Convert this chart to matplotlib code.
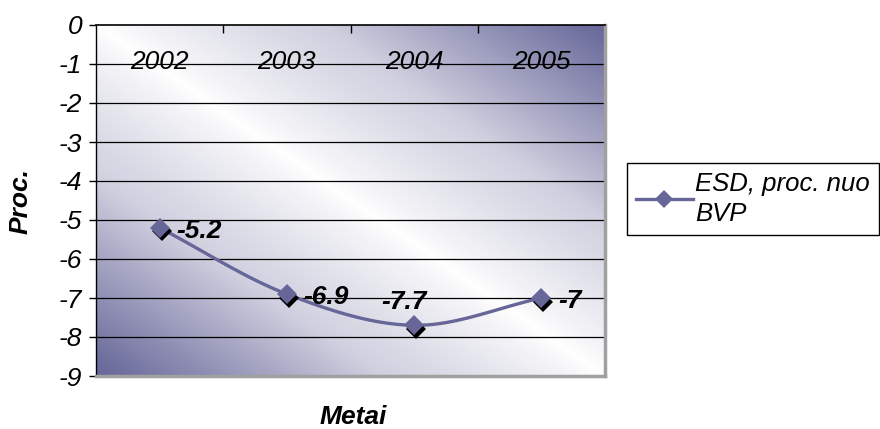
import numpy as np
import matplotlib.pyplot as plt
from matplotlib import transforms
from matplotlib.colors import LinearSegmentedColormap

plt.rcParams['font.family'] = ['Liberation Sans', 'DejaVu Sans']

# data
years = ['2002', '2003', '2004', '2005']
values = [-5.2, -6.9, -7.7, -7.0]
value_labels = ['-5.2', '-6.9', '-7.7', '-7']
series_name = 'ESD, proc. nuo\nBVP'

line_color = '#666699'
FS = 19


def catmull_rom(xs, ys, n=40):
    # smooth curve through points (like Excel "smoothed line")
    px = np.concatenate([[2 * xs[0] - xs[1]], xs, [2 * xs[-1] - xs[-2]]])
    py = np.concatenate([[2 * ys[0] - ys[1]], ys, [2 * ys[-1] - ys[-2]]])
    ox, oy = [], []
    t = np.linspace(0, 1, n)
    for i in range(1, len(px) - 2):
        for p, out in ((px, ox), (py, oy)):
            p0, p1, p2, p3 = p[i - 1], p[i], p[i + 1], p[i + 2]
            out.extend(0.5 * ((2 * p1) + (-p0 + p2) * t
                              + (2 * p0 - 5 * p1 + 4 * p2 - p3) * t ** 2
                              + (-p0 + 3 * p1 - 3 * p2 + p3) * t ** 3))
    return np.array(ox), np.array(oy)


fig = plt.figure(figsize=(8.8, 4.29), dpi=100)
W, H = 880, 429
ax = fig.add_axes([96 / W, 1 - 376 / H, (605 - 96) / W, (376 - 25) / H])

# gradient background: dark at bottom-left / top-right, white along the other diagonal
gx, gy = np.meshgrid(np.linspace(0, 1, 300), np.linspace(0, 1, 300))
d = np.clip(np.abs(gx - gy), 0, 1) ** 0.85
cmap = LinearSegmentedColormap.from_list('g', ['#ffffff', '#cfcfdf', '#666699'])
ax.imshow(d, cmap=cmap, extent=[0, 1, 0, 1], transform=ax.transAxes,
          aspect='auto', origin='upper', zorder=0, vmin=0, vmax=1)

x = np.arange(len(years))
ax.set_xlim(-0.5, len(years) - 0.5)
ax.set_ylim(-9, 0)

for yv in range(-8, 0):
    ax.axhline(yv, color='black', lw=0.9, zorder=1)

sx, sy = catmull_rom(x.astype(float), np.array(values, dtype=float))
ax.plot(sx, sy, color=line_color, lw=2.4, zorder=3)

shadow = transforms.offset_copy(ax.transData, fig=fig, x=2, y=-3.5, units='dots')
ax.plot(x, values, 'D', color='black', ms=10, mew=0, transform=shadow, zorder=4)
ax.plot(x, values, 'D', color=line_color, ms=10, mew=0, zorder=5)

label_offsets = {2: (-7, 17, 'center')}
for i, (xv, yv, lab) in enumerate(zip(x, values, value_labels)):
    dx, dy, ha = label_offsets.get(i, (12, -2, 'left'))
    ax.annotate(lab, (xv, yv), xytext=(dx, dy), textcoords='offset points',
                ha=ha, va='center', fontsize=FS, fontweight='bold',
                fontstyle='italic', zorder=6)

# category labels sit inside, below the top axis
for xv, yr in zip(x, years):
    ax.text(xv, -0.95, yr, ha='center', va='center', fontsize=FS,
            fontstyle='italic', zorder=2)

ax.set_xticks([])
ax.set_xticks(x[:-1] + 0.5, minor=True)
ax.tick_params(axis='x', which='minor', top=True, bottom=False, direction='in',
               length=6, width=1, color='black')
ax.set_yticks(range(-9, 1))
ax.set_yticklabels([str(v) for v in range(-9, 1)], fontsize=FS, fontstyle='italic')
ax.tick_params(axis='y', direction='out', length=5, width=1, pad=5)

ax.spines['left'].set_color('black')
ax.spines['top'].set_color('black')
ax.spines['left'].set_linewidth(1)
ax.spines['top'].set_linewidth(1.2)
ax.spines['right'].set_color('#a0a0a0')
ax.spines['bottom'].set_color('#a0a0a0')
ax.spines['right'].set_linewidth(2.5)
ax.spines['bottom'].set_linewidth(2.5)

fig.text(21 / W, 1 - 201 / H, 'Proc.', rotation=90, ha='center', va='center',
         fontsize=FS, fontweight='bold', fontstyle='italic')
fig.text(353 / W, 1 - 417 / H, 'Metai', ha='center', va='center',
         fontsize=FS, fontweight='bold', fontstyle='italic')

handle, = ax.plot([], [], color=line_color, lw=2.4, marker='D', ms=9, mew=0)
leg = fig.legend([handle], [series_name], loc='upper left',
                 bbox_to_anchor=(627 / W, 1 - 163 / H), frameon=True,
                 fancybox=False, edgecolor='black', framealpha=1,
                 prop={'size': 18.5, 'style': 'italic'}, handlelength=2.2,
                 handletextpad=0.1, borderpad=0.35, borderaxespad=0,
                 labelspacing=0)
leg.get_frame().set_linewidth(1)
for t in leg.get_texts():
    t.set_linespacing(1.3)

fig.savefig('out.png', dpi=100)
